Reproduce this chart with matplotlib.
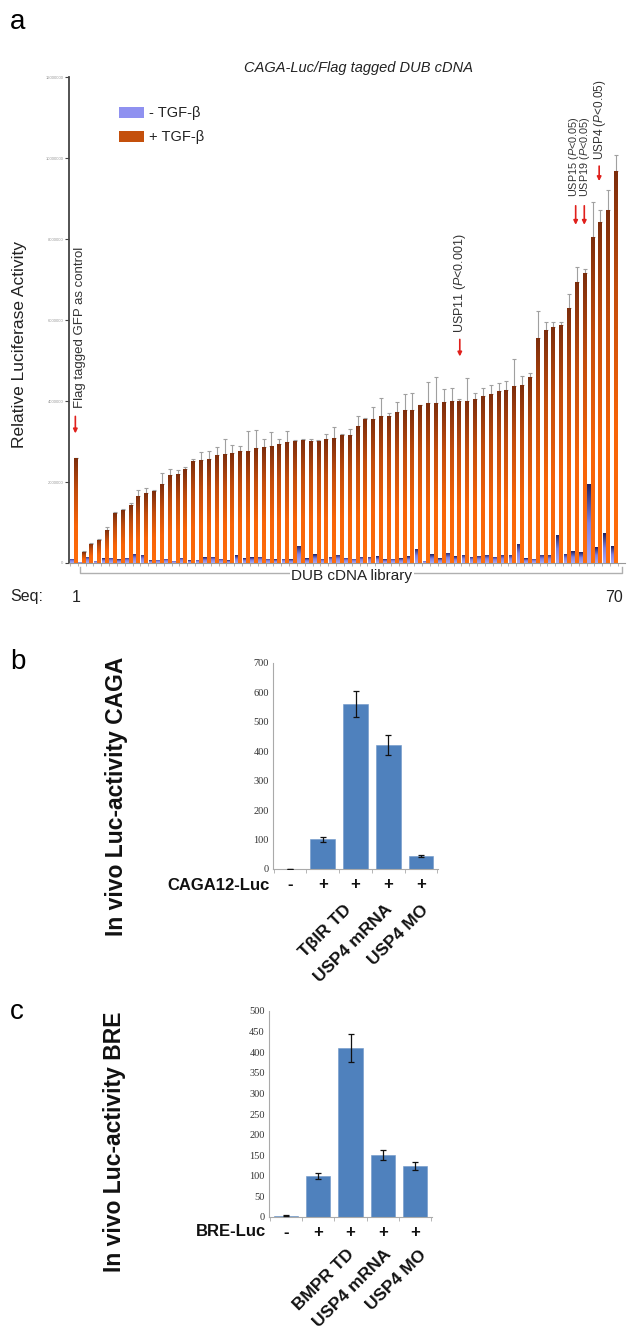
import numpy as np
import matplotlib
matplotlib.use('Agg')
import matplotlib.pyplot as plt
from matplotlib import transforms
from matplotlib.colors import LinearSegmentedColormap
from matplotlib.patches import Rectangle

plt.rcParams['font.family'] = ['Liberation Sans', 'DejaVu Sans']
plt.rcParams['mathtext.fontset'] = 'custom'
plt.rcParams['mathtext.it'] = 'Liberation Sans:italic'
plt.rcParams['mathtext.rm'] = 'Liberation Sans'

W, H = 627, 1337

# ---- panel a: CAGA-Luc screen, Flag tagged DUB cDNA library (values in millions) ----
seq = np.arange(1, 71)
tgf_plus = [2.59, 0.27, 0.47, 0.57, 0.82, 1.23, 1.30, 1.43, 1.66, 1.72,
            1.77, 1.95, 2.18, 2.19, 2.31, 2.51, 2.55, 2.56, 2.67, 2.69,
            2.72, 2.77, 2.77, 2.85, 2.86, 2.90, 2.95, 2.99, 3.02, 3.03,
            3.01, 3.02, 3.06, 3.09, 3.17, 3.16, 3.38, 3.56, 3.56, 3.64,
            3.64, 3.74, 3.79, 3.79, 3.89, 3.94, 3.96, 3.97, 3.99, 4.00,
            4.01, 4.05, 4.12, 4.18, 4.25, 4.28, 4.38, 4.40, 4.60, 5.56,
            5.75, 5.82, 5.88, 6.30, 6.93, 7.17, 8.05, 8.42, 8.72, 9.67]
tgf_plus_err = [0.00, 0.03, 0.03, 0.03, 0.07, 0.03, 0.03, 0.04, 0.14, 0.12,
                0.03, 0.28, 0.14, 0.11, 0.07, 0.05, 0.20, 0.20, 0.19, 0.37,
                0.20, 0.12, 0.49, 0.43, 0.19, 0.34, 0.11, 0.26, 0.02, 0.03,
                0.06, 0.02, 0.13, 0.27, 0.02, 0.14, 0.24, 0.02, 0.28, 0.43,
                0.06, 0.23, 0.38, 0.40, 0.02, 0.54, 0.64, 0.32, 0.33, 0.04,
                0.57, 0.14, 0.20, 0.21, 0.19, 0.21, 0.66, 0.22, 0.10, 0.67,
                0.21, 0.12, 0.08, 0.33, 0.37, 0.08, 0.86, 0.30, 0.48, 0.41]
tgf_minus = [0.10, 0.03, 0.16, 0.06, 0.12, 0.13, 0.09, 0.13, 0.23, 0.20,
             0.07, 0.08, 0.11, 0.06, 0.13, 0.07, 0.08, 0.14, 0.15, 0.11,
             0.07, 0.19, 0.12, 0.14, 0.16, 0.10, 0.09, 0.10, 0.09, 0.43,
             0.12, 0.21, 0.11, 0.16, 0.20, 0.13, 0.10, 0.16, 0.15, 0.17,
             0.09, 0.10, 0.12, 0.17, 0.35, 0.05, 0.22, 0.12, 0.25, 0.17,
             0.20, 0.15, 0.18, 0.20, 0.16, 0.20, 0.20, 0.47, 0.12, 0.10,
             0.20, 0.20, 0.70, 0.23, 0.29, 0.26, 1.96, 0.39, 0.74, 0.41]
y_ticks_a = [0, 2, 4, 6, 8, 10, 12]

# ---- panel b / c: in vivo luciferase ----
caga_values = [1, 101, 560, 420, 44]
caga_err = [0.5, 9, 45, 34, 4]
caga_signs = ['-', '+', '+', '+', '+']
caga_names = ['', '', 'T\u03b2IR TD', 'USP4 mRNA', 'USP4 MO']

bre_values = [3, 100, 410, 150, 124]
bre_err = [1, 8, 33, 12, 10]
bre_signs = ['-', '+', '+', '+', '+']
bre_names = ['', '', 'BMPR TD', 'USP4 mRNA', 'USP4 MO']


def px_axes(fig, left, top, right, bottom):
    ax = fig.add_axes([left / W, 1 - bottom / H, (right - left) / W, (bottom - top) / H])
    ax.px = (left, top, right, bottom)
    return ax


def ax_y(ax, py):
    """figure pixel row -> axes fraction"""
    left, top, right, bottom = ax.px
    return (bottom - py) / (bottom - top)


def gradient_bars(ax, x, heights, width, cmap):
    bars = ax.bar(x, heights, width, color='none', edgecolor='none', zorder=2)
    grad = np.linspace(0, 1, 128).reshape(-1, 1)
    for patch in bars:
        x0, y0 = patch.get_x(), patch.get_y()
        im = ax.imshow(grad, cmap=cmap, origin='lower', aspect='auto', interpolation='bilinear',
                       extent=(x0, x0 + patch.get_width(), y0, y0 + patch.get_height()), zorder=2)
        im.set_clip_path(patch)
    return bars


fig = plt.figure(figsize=(W / 100, H / 100), dpi=100)

orange_cmap = LinearSegmentedColormap.from_list(
    'orng', [(0, '#ff6e0c'), (0.35, '#f86408'), (0.7, '#c24c0c'), (1, '#7c2d0c')])
blue_cmap = LinearSegmentedColormap.from_list('blu', ['#a9abf6', '#8083e2', '#1e2160'])

# ================= panel a =================
ax = px_axes(fig, 69, 77, 625, 563)
x_orange = seq + 0.25
x_blue = seq - 0.25
gradient_bars(ax, x_blue, np.array(tgf_minus) * 1e6, 0.4, blue_cmap)
gradient_bars(ax, x_orange, np.array(tgf_plus) * 1e6, 0.5, orange_cmap)
ax.errorbar(x_orange, np.array(tgf_plus) * 1e6,
            yerr=[np.zeros(len(seq)), np.array(tgf_plus_err) * 1e6],
            fmt='none', ecolor='#a0a0a0', elinewidth=0.8, capsize=1.4, capthick=0.8, zorder=1)
ax.set_xlim(0.39, 71.4)
ax.set_ylim(0, 12e6)
ax.set_yticks([v * 1e6 for v in y_ticks_a])
ax.set_yticklabels(['%d' % (v * 1e6) for v in y_ticks_a], fontsize=3, color='#999999')
ax.set_xticks(np.arange(0.5, 71, 1))
ax.set_xticklabels([])
ax.tick_params(axis='x', length=2, width=0.5, color='#999999')
ax.tick_params(axis='y', length=3, width=0.8, color='#444444', pad=1)
for s in ['top', 'right']:
    ax.spines[s].set_visible(False)
ax.spines['left'].set_color('#444444')
ax.spines['left'].set_linewidth(1.3)
ax.spines['bottom'].set_color('#999999')
ax.spines['bottom'].set_linewidth(0.8)

fig.text(20 / W, 1 - 345 / H, 'Relative Luciferase Activity', rotation=90,
         ha='center', va='center', fontsize=12.5, color='#222222')
fig.text(358 / W, 1 - 68 / H, 'CAGA-Luc/Flag tagged DUB cDNA', style='italic',
         ha='center', va='center', fontsize=10.5, color='#222222')
fig.text(10 / W, 1 - 22 / H, 'a', ha='left', va='center', fontsize=20)

# legend
for py, col, lab in [(107, '#8f91f0', '- TGF-\u03b2'), (131, '#c4500c', '+ TGF-\u03b2')]:
    fig.patches.append(Rectangle((119 / W, 1 - (py + 11) / H), 25 / W, 11 / H,
                                 transform=fig.transFigure, facecolor=col, edgecolor='none'))
    fig.text(149 / W, 1 - (py + 6) / H, lab, ha='left', va='center', fontsize=10.5, color='#222222')

# hit annotations
arrow_kw = dict(arrowstyle='-|>', color='#e0201c', lw=1.2, mutation_scale=6, shrinkA=0, shrinkB=0)
ann_kw = dict(rotation=90, ha='center', va='bottom', color='#333333')
ax.annotate('', xy=(1.2, 3.2e6), xytext=(1.2, 3.62e6), arrowprops=arrow_kw)
ax.text(1.8, 3.83e6, 'Flag tagged GFP as control', fontsize=9.5, **ann_kw)
ax.annotate('', xy=(50.3, 5.1e6), xytext=(50.3, 5.52e6), arrowprops=arrow_kw)
ax.text(50.3, 5.68e6, 'USP11 ($P$<0.001)', fontsize=9, **ann_kw)
for sx in [65.1, 66.2]:
    ax.annotate('', xy=(sx, 8.35e6), xytext=(sx, 8.82e6), arrowprops=arrow_kw)
ax.annotate('', xy=(68.1, 9.43e6), xytext=(68.1, 9.8e6), arrowprops=arrow_kw)
ax.text(64.9, 9.04e6, 'USP15 ($P$<0.05)', clip_on=False, fontsize=7.8, **ann_kw)
ax.text(66.35, 9.04e6, 'USP19 ($P$<0.05)', clip_on=False, fontsize=7.8, **ann_kw)
ax.text(68.2, 9.95e6, 'USP4 ($P$<0.05)', clip_on=False, fontsize=8.5, **ann_kw)

# library bracket & sequence numbers
tr = transforms.blended_transform_factory(ax.transData, ax.transAxes)
yb = ax_y(ax, 573)
yt = ax_y(ax, 567)
ax.plot([1.8, 1.8, 71.0, 71.0], [yt, yb, yb, yt], transform=tr, color='#b0b0b0',
        lw=1.0, clip_on=False)
ax.text(36.5, ax_y(ax, 576), 'DUB cDNA library', transform=tr, ha='center', va='center',
        fontsize=11, color='#222222', bbox=dict(facecolor='white', edgecolor='none', pad=1))
fig.text(10 / W, 1 - 597 / H, 'Seq:', ha='left', va='center', fontsize=11.5, color='#222222')
ax.text(1.25, ax_y(ax, 598), '1', transform=tr, ha='center', va='center', fontsize=11.5, color='#222222')
ax.text(70.0, ax_y(ax, 598), '70', transform=tr, ha='center', va='center', fontsize=11.5, color='#222222')


# ================= panels b and c =================
def luc_panel(box, values, err, signs, names, ymax, ystep, construct, name_dx, ylabel, ylabel_xy,
              letter, letter_y, sign_py, name_py):
    bx = px_axes(fig, *box)
    pos = np.arange(len(values))
    bx.bar(pos, values, 0.76, color='#4f81bd', edgecolor='#6f97c8', linewidth=0.4, zorder=2)
    bx.errorbar(pos, values, yerr=err, fmt='none', ecolor='#111111', elinewidth=0.9,
                capsize=2, capthick=0.9, zorder=3)
    bx.set_xlim(-0.52, len(values) - 0.48)
    bx.set_ylim(0, ymax)
    ticks = np.arange(0, ymax + 1, ystep)
    bx.set_yticks(ticks)
    bx.set_yticklabels([str(t) for t in ticks], family='Liberation Serif', fontsize=7.5, color='#333333')
    bx.set_xticks(np.arange(-0.5, len(values), 1))
    bx.set_xticklabels([])
    bx.tick_params(axis='x', length=3, width=0.6, color='#aaaaaa')
    bx.tick_params(axis='y', length=0, pad=3)
    for s in ['top', 'right']:
        bx.spines[s].set_visible(False)
    for s in ['left', 'bottom']:
        bx.spines[s].set_color('#aaaaaa')
        bx.spines[s].set_linewidth(0.8)
    trb = transforms.blended_transform_factory(bx.transData, bx.transAxes)
    ys = ax_y(bx, sign_py)
    bx.text(-0.62, ys, construct, transform=trb, ha='right', va='center', fontsize=12,
            fontweight='bold', color='#111111')
    for p, s in zip(pos, signs):
        bx.text(p, ys, s, transform=trb, ha='center', va='center', fontsize=12,
                fontweight='bold', color='#111111')
    yn = ax_y(bx, name_py)
    for p, n, dx in zip(pos, names, name_dx):
        if n:
            bx.text(p + dx, yn, n, transform=trb, rotation=45, ha='right', va='top',
                    fontsize=12.5, fontweight='bold', color='#111111')
    fig.text(ylabel_xy[0] / W, 1 - ylabel_xy[1] / H, ylabel, rotation=90, ha='center',
             va='center', fontsize=16.5, fontweight='bold', color='#111111')
    fig.text(10 / W, 1 - letter_y / H, letter, ha='left', va='center', fontsize=20)
    return bx


luc_panel((273, 663, 438, 869), caga_values, caga_err, caga_signs, caga_names, 700, 100,
          'CAGA12-Luc', [0, 0, -0.05, 0.2, 0.3], 'In vivo Luc-activity CAGA', (117, 796),
          'b', 662, 885, 902)
luc_panel((269, 1011, 432, 1217), bre_values, bre_err, bre_signs, bre_names, 500, 50,
          'BRE-Luc', [0, 0, 0.2, 0.35, 0.45], 'In vivo Luc-activity BRE', (115, 1142),
          'c', 1012, 1232, 1247)

fig.savefig('out.png', dpi=100)
